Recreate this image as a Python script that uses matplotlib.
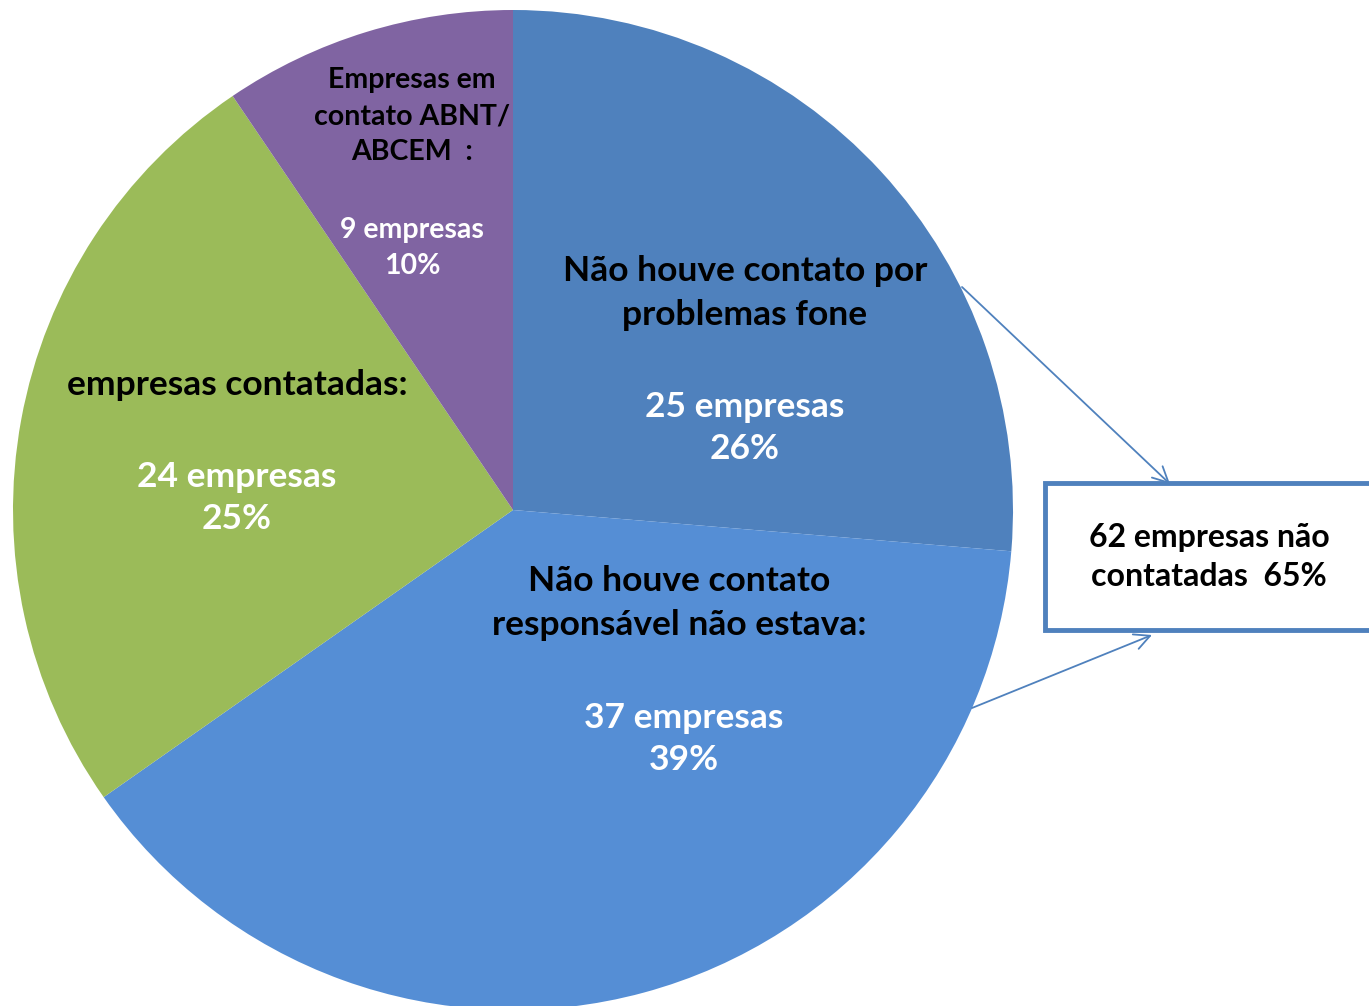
import matplotlib
matplotlib.use('Agg')
from matplotlib import pyplot as plt
from matplotlib import patches as mpatches

# slices, clockwise from the top
categories = [
    'Não houve contato por\nproblemas fone',
    'Não houve contato\nresponsável não estava:',
    'empresas contatadas:',
    'Empresas em\ncontato ABNT/\nABCEM  :',
]
counts = [25, 37, 24, 9]
percents = ['26%', '39%', '25%', '10%']
colors = ['#4F81BD', '#558ED5', '#9BBB59', '#8064A2']

box_text = '62 empresas não\ncontatadas  65%'

W, H = 1369, 1006
plt.rcParams['font.family'] = ['Lato', 'DejaVu Sans']

fig = plt.figure(figsize=(W / 100, H / 100), dpi=100)
ax = fig.add_axes([0, 0, 1, 1])

ax.pie(counts, colors=colors, startangle=90, counterclock=False,
       center=(513, H - 510), radius=500,
       wedgeprops=dict(linewidth=0))
ax.set_xlim(0, W)
ax.set_ylim(0, H)
ax.set_aspect('equal')
ax.axis('off')


def put(x, y, s, color='black', size=25.5, ls=1.45):
    # y is measured from the top of the picture
    ax.text(x, H - y, s, color=color, fontsize=size, fontweight='bold',
            ha='center', va='center', linespacing=ls)


# label layout for each slice: (title x, title y, number x, number y, size)
layout = [
    (745, 293, 745, 428, 25.5),
    (679, 603, 684, 739, 25.5),
    (237, 385, 237, 498, 25.5),
    (412, 116, 412, 248, 20.5),
]

for cat, n, pct, (tx, ty, nx, ny, size) in zip(categories, counts,
                                               percents, layout):
    put(tx, ty, cat, 'black', size, 1.48)
    put(nx, ny, '%d empresas\n%s' % (n, pct), 'white', size,
        1.42 if size > 22 else 1.48)

# box on the right
box = mpatches.Rectangle((1045, H - 630), 400, 147, fill=True,
                         facecolor='white', edgecolor='#4F81BD',
                         linewidth=3.5, zorder=3)
ax.add_patch(box)
ax.text(1209, H - 557, box_text, color='black', fontsize=23,
        fontweight='bold', ha='center', va='center', linespacing=1.45,
        zorder=4)

arrow = dict(arrowstyle='->', color='#4F81BD', lw=1.3, mutation_scale=28,
             shrinkA=0, shrinkB=0)
ax.annotate('', xy=(1170, H - 484), xytext=(962, H - 287),
            arrowprops=arrow, zorder=5)
ax.annotate('', xy=(1152, H - 635), xytext=(972, H - 708),
            arrowprops=arrow, zorder=5)

fig.savefig('out.png', dpi=100)
